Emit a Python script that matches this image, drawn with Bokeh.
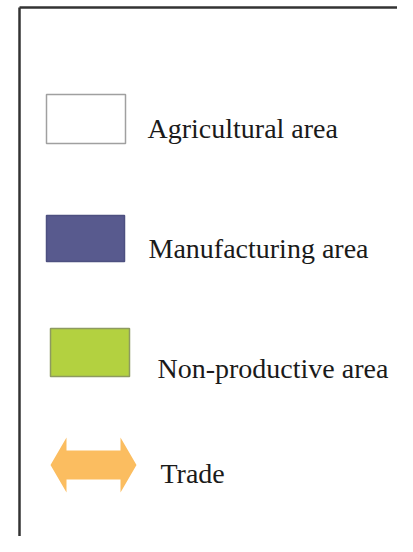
from bokeh.plotting import figure
from bokeh.models import Range1d, ColumnDataSource
from bokeh.core.properties import value
from bokeh.embed import file_html
from bokeh.resources import INLINE

# Legend content
labels = ["Agricultural area", "Manufacturing area", "Non-productive area", "Trade"]
fill_colors = ["#ffffff", "#585a8e", "#b3d140", "#fbbd60"]
line_colors = ["#a0a0a0", "#4d5080", "#8d9a60", "#fbbd60"]
kinds = ["rect", "rect", "rect", "arrow"]

# Layout (image pixel coordinates)
sym_left = [46, 46, 50, 50]
sym_right = [125, 124, 129, 136]
sym_top = [94, 215, 328, 437]
sym_bottom = [143, 261, 376, 492]
text_x = [147, 148, 157, 160]
text_base = [128, 248, 368, 473]

W, H = 397, 536
p = figure(width=W, height=H, output_backend="svg", toolbar_location=None,
           x_range=Range1d(0, W), y_range=Range1d(H, 0),
           min_border=0, outline_line_color=None)
p.axis.visible = False
p.grid.visible = False
p.background_fill_color = "white"
p.border_fill_color = "white"

# frame lines (top and left)
p.line([19, W], [7, 7], line_color="#333333", line_width=2.5)
p.line([19, 19], [7, H], line_color="#333333", line_width=2.5)

for i, k in enumerate(kinds):
    l, r, t, b = sym_left[i], sym_right[i], sym_top[i], sym_bottom[i]
    if k == "rect":
        p.quad(left=[l], right=[r], top=[t], bottom=[b],
               fill_color=fill_colors[i], line_color=line_colors[i], line_width=1.5)
    else:
        cy = (t + b) / 2
        head = 16
        shaft_h = 14.5
        xs = [l, l + head, l + head, r - head, r - head, r,
              r - head, r - head, l + head, l + head]
        ys = [cy, t, cy - shaft_h, cy - shaft_h, t, cy,
              b, cy + shaft_h, cy + shaft_h, b]
        p.patch(xs, ys, fill_color=fill_colors[i], line_color=None)

src = ColumnDataSource(dict(x=text_x, y=text_base, t=labels))
p.text(x="x", y="y", text="t", source=src, text_font=value("Liberation Serif"),
       text_font_size="28px", text_color="#1a1a1a", text_baseline="alphabetic",
       text_align="left")

open("out.html", "w").write(file_html(p, INLINE))
